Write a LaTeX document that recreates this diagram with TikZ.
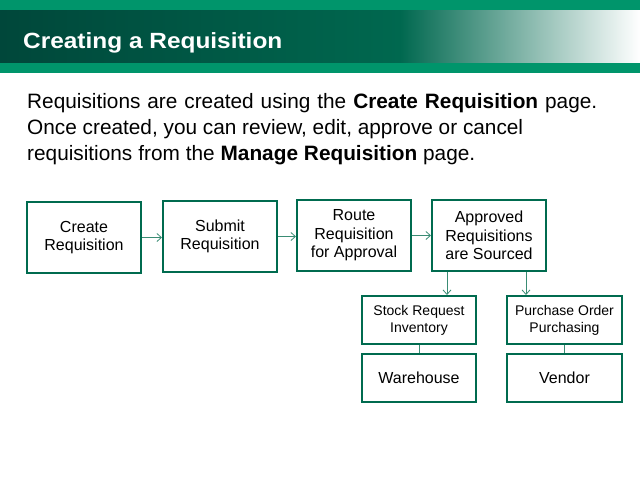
\documentclass[tikz,border=0pt]{standalone}
\usepackage{fontspec}
\usepackage{graphicx}
\setmainfont{Liberation Sans}
\usetikzlibrary{arrows.meta}
\definecolor{hdrlight}{HTML}{00956B}
\definecolor{hdrdark}{HTML}{00473A}
\definecolor{hdrmid}{HTML}{00684F}
\definecolor{boxgreen}{HTML}{006B4F}
\definecolor{arrgreen}{HTML}{3A8C74}
\begin{document}
\begin{tikzpicture}[x=1pt,y=-1pt,
  stepbox/.style={draw=boxgreen,line width=2pt,fill=white,anchor=north west,align=center,inner sep=0pt,font=\fontsize{16}{18.5}\selectfont},
  smallbox/.style={stepbox,font=\fontsize{14}{17}\selectfont},
  bodytext/.style={anchor=base west,inner sep=0pt,font=\fontsize{20.8}{24}\selectfont},
  conn/.style={draw=arrgreen,line width=0.8pt,-{Straight Barb[length=4.5pt,width=8pt]}},
  link/.style={draw=arrgreen,line width=0.8pt}]
\useasboundingbox (0,0) rectangle (640,480);
\fill[white] (0,0) rectangle (640,480);
% header
\fill[hdrlight] (0,0) rectangle (640,10);
\shade[left color=hdrdark,right color=hdrmid] (0,10) rectangle (401,63);
\shade[left color=hdrmid,right color=white] (400,10) rectangle (640,63);
\fill[hdrlight] (0,63) rectangle (640,73);
\node[anchor=base west,text=white,font=\fontsize{22}{25}\bfseries\selectfont,inner sep=0pt] (title) at (23,48.5) {\scalebox{1.11}[1]{Creating a Requisition}};
% body text
\node[bodytext] (l1) at (27,108) {\makebox[570pt][s]{Requisitions are created using the \textbf{Create Requisition} page.}};
\node[bodytext] (l2) at (27,134) {\makebox[496pt][s]{Once created, you can review, edit, approve or cancel}};
\node[bodytext] (l3) at (27,160) {\makebox[448pt][s]{requisitions from the \textbf{Manage Requisition} page.}};
% boxes
\node[stepbox,minimum width=114pt,minimum height=71pt] (create) at (26,201) {Create\\Requisition};
\node[stepbox,minimum width=114pt,minimum height=71pt] (submit) at (162,200) {Submit\\Requisition};
\node[stepbox,minimum width=114pt,minimum height=71pt] (route) at (296,199) {Route\\Requisition\\for Approval};
\node[stepbox,minimum width=114pt,minimum height=71pt] (approved) at (431,199) {Approved\\Requisitions\\are Sourced};
\node[smallbox,minimum width=114pt,minimum height=48pt] (stock) at (361,295) {Stock Request\\Inventory};
\node[smallbox,minimum width=115pt,minimum height=48pt] (purchase) at (506,295) {Purchase Order\\Purchasing};
\node[stepbox,minimum width=114pt,minimum height=48pt] (warehouse) at (361,353) {Warehouse};
\node[stepbox,minimum width=115pt,minimum height=48pt] (vendor) at (506,353) {Vendor};
% connectors
\draw[conn] (create.east) -- (submit.west |- create.east);
\draw[conn] (submit.east) -- (route.west |- submit.east);
\draw[conn] (route.east) -- (approved.west |- route.east);
\draw[conn] (approved.south -| 447,0) -- (stock.north -| 447,0);
\draw[conn] (approved.south -| 526,0) -- (purchase.north -| 526,0);
\draw[link] (stock.south) -- (warehouse.north);
\draw[link] (purchase.south) -- (vendor.north);
\end{tikzpicture}
\end{document}
